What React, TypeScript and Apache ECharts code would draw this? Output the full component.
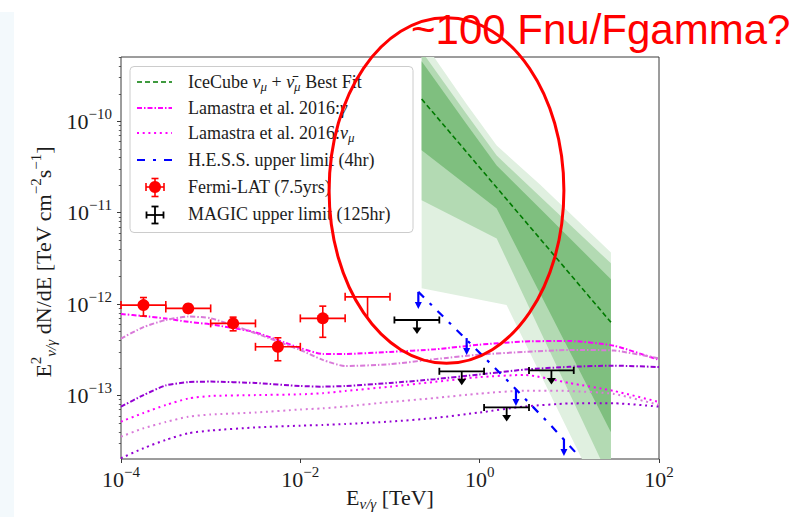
import React, { useEffect, useRef } from "react";
import * as echarts from "echarts";

// ---------------- data ----------------
const xTickExponents = [-4, -2, 0, 2];
const yTickExponents = [-13, -12, -11, -10];
const xRange = [1e-4, 100];
const yRange = [2.02e-14, 5.05e-10];

// Lamastra et al. 2016 model curves
const lamEnergy = [1e-4, 1.78e-4, 3.16e-4, 5.62e-4, 1e-3, 3.16e-3, 1e-2, 1.78e-2, 3.16e-2, 0.1, 0.316, 1, 3.16, 10, 31.6, 100];
const lamGammaMagenta = [7.8e-13, 7.4e-13, 6.95e-13, 6.4e-13, 6.0e-13, 4.9e-13, 3.3e-13, 2.85e-13, 2.85e-13, 3.0e-13, 3.2e-13, 3.6e-13, 3.9e-13, 3.95e-13, 3.5e-13, 2.45e-13];
const lamGammaOrchid = [4.2e-13, 5.6e-13, 6.7e-13, 7.3e-13, 7.0e-13, 4.8e-13, 3.15e-13, 2.45e-13, 2.1e-13, 2.2e-13, 2.5e-13, 2.8e-13, 3.0e-13, 3.15e-13, 3.1e-13, 2.55e-13];
const lamGammaViolet = [7.55e-14, 1.01e-13, 1.29e-13, 1.4e-13, 1.42e-13, 1.37e-13, 1.27e-13, 1.25e-13, 1.27e-13, 1.37e-13, 1.51e-13, 1.7e-13, 1.92e-13, 2.06e-13, 2.12e-13, 2.05e-13];
const lamNuMagenta = [5.18e-14, 6.44e-14, 7.87e-14, 9.27e-14, 9.88e-14, 1.01e-13, 1.03e-13, 1.06e-13, 1.12e-13, 1.25e-13, 1.41e-13, 1.59e-13, 1.68e-13, 1.37e-13, 1.12e-13, 8.49e-14];
const lamNuOrchid = [3.55e-14, 4.38e-14, 5.13e-14, 5.86e-14, 6.2e-14, 6.52e-14, 7.03e-14, 7.24e-14, 7.58e-14, 8.49e-14, 9.39e-14, 1.05e-13, 1.13e-13, 1.12e-13, 1.04e-13, 7.87e-14];
const lamNuViolet = [2.06e-14, 2.65e-14, 3.27e-14, 3.86e-14, 4.14e-14, 4.47e-14, 4.68e-14, 4.76e-14, 4.88e-14, 5.18e-14, 5.68e-14, 6.52e-14, 7.58e-14, 8.18e-14, 8.22e-14, 7.55e-14];

// Fermi-LAT points
const fermiE = [1.78e-4, 5.62e-4, 1.78e-3, 5.62e-3, 1.78e-2];
const fermiElo = [1e-4, 3.16e-4, 1e-3, 3.16e-3, 1e-2];
const fermiEhi = [3.16e-4, 1e-3, 3.16e-3, 1e-2, 3.16e-2];
const fermiF = [9.75e-13, 8.97e-13, 6.15e-13, 3.41e-13, 6.98e-13];
const fermiFlo = [7.4e-13, 8.1e-13, 5.1e-13, 2.4e-13, 4.33e-13];
const fermiFhi = [1.18e-12, 9.9e-13, 7.2e-13, 4.28e-13, 9.5e-13];
const fermiUlE = [5.62e-2];
const fermiUlElo = [3.16e-2];
const fermiUlEhi = [0.1];
const fermiUlF = [1.2e-12];

// MAGIC upper limits
const magicE = [0.2, 0.631, 2.0, 6.31];
const magicElo = [0.112, 0.355, 1.12, 3.55];
const magicEhi = [0.355, 1.12, 3.55, 11.2];
const magicF = [6.7e-13, 1.84e-13, 7.4e-14, 1.88e-13];

// H.E.S.S. upper limit curve and arrows
const hessE = [0.207, 0.631, 2.0, 6.31, 12.6];
const hessF = [1.36e-12, 4.59e-13, 1.49e-13, 4.64e-14, 2.21e-14];
const hessArrowE = [0.207, 0.716, 2.54, 8.71];
const hessArrowF = [1.36e-12, 4.25e-13, 1.18e-13, 3.35e-14];

// IceCube best fit and bands
const icBestE = [0.2254, 29.1];
const icBestF = [1.75e-10, 6.32e-13];
const icUpE = [0.2254, 0.713, 1.549, 4.71, 29.1];
const ic1UpF = [4.55e-10, 9.33e-11, 3.28e-11, 1.11e-11, 1.87e-12];
const ic2UpF = [5.85e-10, 1.2e-10, 4.22e-11, 1.5e-11, 2.79e-12];
const ic3UpF = [7.91e-10, 1.55e-10, 5.42e-11, 2.03e-11, 3.68e-12];
const ic12LoE = [0.2254, 1.549, 29.1];
const ic1LoF = [4.82e-11, 1.11e-11, 3.96e-14];
const ic2LoF = [1.37e-11, 5.22e-12, 1.15e-14];
const ic3LoE = [0.2254, 1.995, 29.1];
const ic3LoF = [1.49e-12, 9.75e-13, 4.55e-15];

// ---------------- styling ----------------
const SERIF = '"Liberation Serif", "DejaVu Serif", serif';
const TXT = "#1c1c1c";
const RED = "#ff0000";
const MAGENTA = "#ff00ff";
const ORCHID = "#d97ad9";
const VIOLET = "#9400d3";
const BLUE = "#0000ff";
const DASHDOT = [5, 2, 1.5, 2];
const DOTTED = [2, 3.7];
const HESSDASH = [8, 8, 3, 8];

const lg = (v: number) => Math.log10(v);
const fmtExp = (v: number) => (v < 0 ? "\u2212" + Math.abs(v) : String(v));

const minorY: number[] = [];
for (let n = -15; n <= -9; n++) {
  for (let k = 2; k <= 9; k++) {
    const v = lg(k * Math.pow(10, n));
    if (v > lg(yRange[0]) && v < lg(yRange[1])) minorY.push(v);
  }
}

function lamSeries(ys: number[], color: string, dash: number[]) {
  return {
    type: "line",
    data: lamEnergy.map((e, i) => [lg(e), lg(ys[i])]),
    symbol: "none",
    smooth: 0.2,
    silent: true,
    z: 4,
    lineStyle: { color, width: 2, type: dash, cap: "butt" },
  };
}

function bandSeries(upE: number[], upF: number[], loE: number[], loF: number[], color: string, z: number) {
  return {
    type: "custom",
    coordinateSystem: "cartesian2d",
    clip: true,
    silent: true,
    z,
    data: [[lg(upE[0]), lg(upF[0])]],
    renderItem: (_p: any, api: any) => {
      const pts: number[][] = [];
      upE.forEach((e, i) => pts.push(api.coord([lg(e), lg(upF[i])])));
      for (let i = loE.length - 1; i >= 0; i--) pts.push(api.coord([lg(loE[i]), lg(loF[i])]));
      return { type: "polygon", shape: { points: pts }, style: { fill: color } };
    },
  };
}

const ln = (x1: number, y1: number, x2: number, y2: number, style: any) => ({
  type: "line",
  shape: { x1, y1, x2, y2 },
  style,
});

const tickRich = {
  b: { fontSize: 22, fontFamily: SERIF, color: TXT, lineHeight: 30 },
  s: { fontSize: 15, fontFamily: SERIF, color: TXT, lineHeight: 14, verticalAlign: "top" },
};

const option: any = {
  animation: false,
  backgroundColor: "#ffffff",
  grid: {
    left: 121,
    right: 143,
    top: 57,
    bottom: 58,
    show: true,
    borderColor: "#3a3a3a",
    borderWidth: 1,
    backgroundColor: "transparent",
    outerBoundsMode: "none",
  },
  xAxis: [
    {
      type: "value",
      min: lg(xRange[0]),
      max: lg(xRange[1]),
      interval: 2,
      axisLine: { show: false, onZero: false },
      splitLine: { show: false },
      axisTick: { show: true, length: 4, lineStyle: { color: "#3a3a3a", width: 1 }, customValues: xTickExponents },
      axisLabel: {
        customValues: xTickExponents,
        margin: 5,
        formatter: (v: number) => `{b|10}{s|${fmtExp(Math.round(v))}}`,
        rich: tickRich,
      },
    },
  ],
  yAxis: [
    {
      type: "value",
      min: lg(yRange[0]),
      max: lg(yRange[1]),
      axisLine: { show: false, onZero: false },
      splitLine: { show: false },
      axisTick: { show: true, length: 4, lineStyle: { color: "#3a3a3a", width: 1 }, customValues: yTickExponents },
      axisLabel: {
        customValues: yTickExponents,
        margin: 9,
        formatter: (v: number) => `{b|10}{s|${fmtExp(Math.round(v))}}`,
        rich: tickRich,
      },
    },
    {
      type: "value",
      position: "left",
      offset: 0,
      min: lg(yRange[0]),
      max: lg(yRange[1]),
      axisLine: { show: false, onZero: false },
      splitLine: { show: false },
      axisLabel: { show: false },
      axisTick: { show: true, length: 2.2, lineStyle: { color: "#3a3a3a", width: 0.8 }, customValues: minorY },
    },
  ],
  series: [
    bandSeries(icUpE, ic3UpF, ic3LoE, ic3LoF, "#e0f0e0", 1),
    bandSeries(icUpE, ic2UpF, ic12LoE, ic2LoF, "#b3dab3", 2),
    bandSeries(icUpE, ic1UpF, ic12LoE, ic1LoF, "#7fbf7f", 3),
    {
      type: "line",
      data: icBestE.map((e, i) => [lg(e), lg(icBestF[i])]),
      symbol: "none",
      silent: true,
      z: 4,
      lineStyle: { color: "#007a00", width: 1.6, type: [5, 3] },
    },
    lamSeries(lamGammaMagenta, MAGENTA, DASHDOT),
    lamSeries(lamGammaOrchid, ORCHID, DASHDOT),
    lamSeries(lamGammaViolet, VIOLET, DASHDOT),
    lamSeries(lamNuMagenta, MAGENTA, DOTTED),
    lamSeries(lamNuOrchid, ORCHID, DOTTED),
    lamSeries(lamNuViolet, VIOLET, DOTTED),
    {
      type: "line",
      data: hessE.map((e, i) => [lg(e), lg(hessF[i])]),
      symbol: "none",
      silent: true,
      z: 5,
      lineStyle: { color: BLUE, width: 2.2, type: HESSDASH, cap: "butt" },
    },
    {
      type: "custom",
      coordinateSystem: "cartesian2d",
      silent: true,
      z: 6,
      data: hessArrowE.map((e, i) => [lg(e), lg(hessArrowF[i])]),
      renderItem: (_p: any, api: any) => {
        const c = api.coord([api.value(0), api.value(1)]);
        return {
          type: "group",
          children: [
            ln(c[0], c[1], c[0], c[1] + 11, { stroke: BLUE, lineWidth: 2.2 }),
            { type: "polygon", shape: { points: [[c[0] - 3.5, c[1] + 10], [c[0] + 3.5, c[1] + 10], [c[0], c[1] + 17]] }, style: { fill: BLUE } },
          ],
        };
      },
    },
    {
      type: "custom",
      coordinateSystem: "cartesian2d",
      silent: true,
      z: 7,
      data: magicE.map((e, i) => [lg(e), lg(magicF[i]), lg(magicElo[i]), lg(magicEhi[i])]),
      renderItem: (_p: any, api: any) => {
        const c = api.coord([api.value(0), api.value(1)]);
        const l = api.coord([api.value(2), api.value(1)]);
        const r = api.coord([api.value(3), api.value(1)]);
        const st = { stroke: "#000000", lineWidth: 1.8 };
        return {
          type: "group",
          children: [
            ln(l[0], c[1], r[0], c[1], st),
            ln(l[0], c[1] - 3.5, l[0], c[1] + 3.5, st),
            ln(r[0], c[1] - 3.5, r[0], c[1] + 3.5, st),
            ln(c[0], c[1], c[0], c[1] + 8, st),
            { type: "polygon", shape: { points: [[c[0] - 4.5, c[1] + 7.5], [c[0] + 4.5, c[1] + 7.5], [c[0], c[1] + 14]] }, style: { fill: "#000000" } },
          ],
        };
      },
    },
    {
      type: "custom",
      coordinateSystem: "cartesian2d",
      silent: true,
      z: 8,
      data: fermiUlE.map((e, i) => [lg(e), lg(fermiUlF[i]), lg(fermiUlElo[i]), lg(fermiUlEhi[i])]),
      renderItem: (_p: any, api: any) => {
        const c = api.coord([api.value(0), api.value(1)]);
        const l = api.coord([api.value(2), api.value(1)]);
        const r = api.coord([api.value(3), api.value(1)]);
        const st = { stroke: RED, lineWidth: 1.6 };
        return {
          type: "group",
          children: [
            ln(l[0], c[1], r[0], c[1], st),
            ln(l[0], c[1] - 4, l[0], c[1] + 4, st),
            ln(r[0], c[1] - 4, r[0], c[1] + 4, st),
            ln(c[0], c[1], c[0], c[1] + 21, st),
          ],
        };
      },
    },
    {
      type: "custom",
      coordinateSystem: "cartesian2d",
      silent: true,
      z: 9,
      data: fermiE.map((e, i) => [lg(e), lg(fermiF[i]), lg(fermiElo[i]), lg(fermiEhi[i]), lg(fermiFlo[i]), lg(fermiFhi[i])]),
      renderItem: (_p: any, api: any) => {
        const c = api.coord([api.value(0), api.value(1)]);
        const l = api.coord([api.value(2), api.value(1)]);
        const r = api.coord([api.value(3), api.value(1)]);
        const b = api.coord([api.value(0), api.value(4)]);
        const t = api.coord([api.value(0), api.value(5)]);
        const st = { stroke: RED, lineWidth: 1.6 };
        return {
          type: "group",
          children: [
            ln(l[0], c[1], r[0], c[1], st),
            ln(l[0], c[1] - 4, l[0], c[1] + 4, st),
            ln(r[0], c[1] - 4, r[0], c[1] + 4, st),
            ln(c[0], t[1], c[0], b[1], st),
            ln(c[0] - 3.5, t[1], c[0] + 3.5, t[1], st),
            ln(c[0] - 3.5, b[1], c[0] + 3.5, b[1], st),
            { type: "circle", shape: { cx: c[0], cy: c[1], r: 6 }, style: { fill: RED } },
          ],
        };
      },
    },
  ],
  graphic: [
    { type: "rect", z: 0, silent: true, shape: { x: 0, y: 12, width: 14, height: 505 }, style: { fill: "#f3f9fc" } },
    // legend box
    {
      type: "rect",
      z: 50,
      silent: true,
      shape: { x: 130, y: 66.5, width: 283, height: 166, r: 4 },
      style: { fill: "rgba(255,255,255,0.85)", stroke: "#cccccc", lineWidth: 1 },
    },
    { ...ln(137, 82, 172, 82, { stroke: "#007a00", lineWidth: 1.6, lineDash: [5, 3] }), z: 51 },
    { ...ln(137, 108, 172, 108, { stroke: MAGENTA, lineWidth: 2, lineDash: DASHDOT }), z: 51 },
    { ...ln(137, 133, 172, 133, { stroke: MAGENTA, lineWidth: 2, lineDash: DOTTED }), z: 51 },
    { ...ln(137, 160, 173, 160, { stroke: BLUE, lineWidth: 2.2, lineDash: HESSDASH }), z: 51 },
    { ...ln(146, 187, 164, 187, { stroke: RED, lineWidth: 1.6 }), z: 51 },
    { ...ln(155, 178.5, 155, 196.5, { stroke: RED, lineWidth: 1.6 }), z: 51 },
    { ...ln(146, 183, 146, 191, { stroke: RED, lineWidth: 1.6 }), z: 51 },
    { ...ln(164, 183, 164, 191, { stroke: RED, lineWidth: 1.6 }), z: 51 },
    { ...ln(151.5, 178.5, 158.5, 178.5, { stroke: RED, lineWidth: 1.6 }), z: 51 },
    { ...ln(151.5, 196.5, 158.5, 196.5, { stroke: RED, lineWidth: 1.6 }), z: 51 },
    { type: "circle", z: 52, silent: true, shape: { cx: 155, cy: 187, r: 6 }, style: { fill: RED } },
    { ...ln(146.5, 215, 163.5, 215, { stroke: "#000", lineWidth: 1.8 }), z: 51 },
    { ...ln(155, 206.5, 155, 223.5, { stroke: "#000", lineWidth: 1.8 }), z: 51 },
    { ...ln(146.5, 211.5, 146.5, 218.5, { stroke: "#000", lineWidth: 1.8 }), z: 51 },
    { ...ln(163.5, 211.5, 163.5, 218.5, { stroke: "#000", lineWidth: 1.8 }), z: 51 },
    { ...ln(151.5, 206.5, 158.5, 206.5, { stroke: "#000", lineWidth: 1.8 }), z: 51 },
    { ...ln(151.5, 223.5, 158.5, 223.5, { stroke: "#000", lineWidth: 1.8 }), z: 51 },
    ...[
      { y: 82, text: "{t|IceCube }{i|\u03bd}{sub|\u03bc}{t| + }{i|\u03bd\u0304}{sub|\u03bc}{t| Best Fit}" },
      { y: 108, text: "{t|Lamastra et al. 2016:}{i|\u03b3}" },
      { y: 133, text: "{t|Lamastra et al. 2016:}{i|\u03bd}{sub|\u03bc}" },
      { y: 160, text: "{t|H.E.S.S. upper limit (4hr)}" },
      { y: 187, text: "{t|Fermi-LAT (7.5yrs)}" },
      { y: 214, text: "{t|MAGIC upper limit (125hr)}" },
    ].map((row) => ({
      type: "text",
      z: 52,
      silent: true,
      x: 188,
      y: row.y,
      style: {
        text: row.text,
        align: "left",
        verticalAlign: "middle",
        rich: {
          t: { fontSize: 18, fontFamily: SERIF, fill: TXT, lineHeight: 22 },
          i: { fontSize: 18, fontFamily: SERIF, fontStyle: "italic", fill: TXT, lineHeight: 22 },
          sub: { fontSize: 13, fontFamily: SERIF, fontStyle: "italic", fill: TXT, lineHeight: 14, verticalAlign: "bottom" },
        },
      },
    })),
    // axis titles
    {
      type: "text",
      z: 52,
      silent: true,
      x: 390,
      y: 497,
      style: {
        text: "{t|E}{sub|\u03bd/\u03b3}{t| [TeV]}",
        align: "center",
        verticalAlign: "middle",
        rich: {
          t: { fontSize: 22, fontFamily: SERIF, fill: TXT, lineHeight: 28 },
          sub: { fontSize: 15, fontFamily: SERIF, fontStyle: "italic", fill: TXT, lineHeight: 18, verticalAlign: "bottom" },
        },
      },
    },
    {
      type: "text",
      z: 52,
      silent: true,
      x: 43,
      y: 262,
      rotation: Math.PI / 2,
      style: {
        text: "{t|E}{sup|2}{sub|\u03bd/\u03b3}{t| dN/dE [TeV cm}{sup|\u22122}{t|s}{sup|\u22121}{t|]}",
        align: "center",
        verticalAlign: "middle",
        rich: {
          t: { fontSize: 22, fontFamily: SERIF, fill: TXT, lineHeight: 30 },
          sup: { fontSize: 15, fontFamily: SERIF, fill: TXT, lineHeight: 14, verticalAlign: "top" },
          sub: { fontSize: 15, fontFamily: SERIF, fontStyle: "italic", fill: TXT, lineHeight: 20, verticalAlign: "bottom" },
        },
      },
    },
    // annotation
    {
      type: "text",
      z: 200,
      silent: true,
      x: 411,
      y: 29,
      style: {
        text: "~100 Fnu/Fgamma?",
        fontSize: 42,
        fontFamily: '"Liberation Sans", Arial, sans-serif',
        fill: RED,
        align: "left",
        verticalAlign: "middle",
      },
    },
    {
      type: "ellipse",
      z: 201,
      silent: true,
      shape: { cx: 446.5, cy: 190.5, rx: 117.4, ry: 172.8 },
      style: { fill: "none", stroke: RED, lineWidth: 3 },
    },
  ],
};

export default function App() {
  const ref = useRef<HTMLDivElement>(null);
  useEffect(() => {
    if (!ref.current) return;
    const chart = echarts.init(ref.current, undefined, { renderer: "svg", width: 802, height: 517 });
    chart.setOption(option);
    return () => chart.dispose();
  }, []);
  return (
    <div
      ref={ref}
      style={{ position: "fixed", left: 0, top: 0, width: 802, height: 517, background: "#ffffff" }}
    />
  );
}
